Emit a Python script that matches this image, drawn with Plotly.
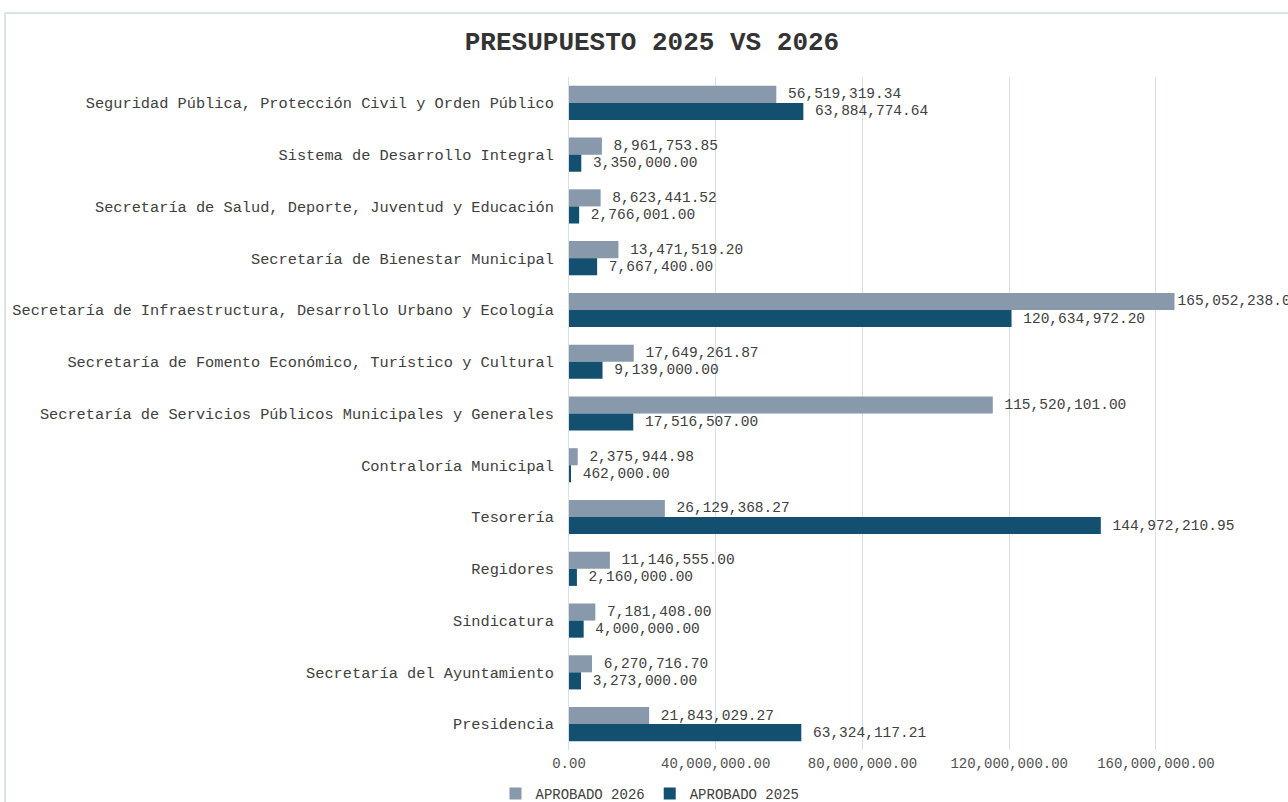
import plotly.graph_objects as go

categories = [
    "Seguridad Pública, Protección Civil y Orden Público",
    "Sistema de Desarrollo Integral",
    "Secretaría de Salud, Deporte, Juventud y Educación",
    "Secretaría de Bienestar Municipal",
    "Secretaría de Infraestructura, Desarrollo Urbano y Ecología",
    "Secretaría de Fomento Económico, Turístico y Cultural",
    "Secretaría de Servicios Públicos Municipales y Generales",
    "Contraloría Municipal",
    "Tesorería",
    "Regidores",
    "Sindicatura",
    "Secretaría del Ayuntamiento",
    "Presidencia",
]

aprobado_2026 = [
    56519319.34, 8961753.85, 8623441.52, 13471519.20, 165052238.00,
    17649261.87, 115520101.00, 2375944.98, 26129368.27, 11146555.00,
    7181408.00, 6270716.70, 21843029.27,
]

aprobado_2025 = [
    63884774.64, 3350000.00, 2766001.00, 7667400.00, 120634972.20,
    9139000.00, 17516507.00, 462000.00, 144972210.95, 2160000.00,
    4000000.00, 3273000.00, 63324117.21,
]

tick_vals = [0, 40000000, 80000000, 120000000, 160000000]
tick_text = ["0.00", "40,000,000.00", "80,000,000.00", "120,000,000.00", "160,000,000.00"]

FONT = "Liberation Mono, Courier New, monospace"
TXT = "#404040"
X_MAX = 196000000

def fmt(v):
    s = f"{v:,.2f}"
    # labels get a small gap after the bar end, except where it would overflow the chart
    return s if v > 0.8 * X_MAX else " " + s

fig = go.Figure()
fig.add_trace(go.Bar(
    name="APROBADO 2026", y=categories, x=aprobado_2026, orientation="h",
    marker=dict(color="#8799ab", line=dict(width=0)),
    text=[fmt(v) for v in aprobado_2026], textposition="outside",
    textfont=dict(family=FONT, size=14.5, color=TXT), cliponaxis=True,
    hoverinfo="x+y",
))
fig.add_trace(go.Bar(
    name="APROBADO 2025", y=categories, x=aprobado_2025, orientation="h",
    marker=dict(color="#135070", line=dict(width=0)),
    text=[fmt(v) for v in aprobado_2025], textposition="outside",
    textfont=dict(family=FONT, size=14.5, color=TXT), cliponaxis=True,
    hoverinfo="x+y",
))

L, T, B = 569, 77, 52
W, H = 1288, 802
pw = W - L
ph = H - T - B

def px_x(x):
    return (x - L) / pw

def px_y(y):
    return 1 - (y - T) / ph

fig.update_layout(
    width=W, height=H,
    margin=dict(l=L, r=0, t=T, b=B, pad=0, autoexpand=False),
    paper_bgcolor="white", plot_bgcolor="white",
    barmode="group", bargap=0.34, bargroupgap=0,
    font=dict(family=FONT, color=TXT),
    title=dict(text="<b>PRESUPUESTO 2025 VS 2026</b>", xref="container",
               x=652 / W, xanchor="center",
               yref="container", y=1 - 41 / H, yanchor="middle",
               font=dict(family=FONT, size=26, color="#333333")),
    xaxis=dict(range=[0, X_MAX], tickvals=tick_vals, ticktext=tick_text,
               showgrid=True, gridcolor="#d7e0e7", gridwidth=1,
               zeroline=False, showline=False, ticks="",
               tickfont=dict(family=FONT, size=14, color="#505050"),
               ticklabelstandoff=3, fixedrange=True, automargin=False),
    yaxis=dict(autorange="reversed", showgrid=False, zeroline=False,
               showline=True, linecolor="#d7e0e7", linewidth=1, ticks="",
               tickfont=dict(family=FONT, size=15.3, color=TXT),
               ticklabelstandoff=11, fixedrange=True, automargin=False),
    legend=dict(orientation="h", x=px_x(650), xanchor="center",
                y=px_y(794), yanchor="middle",
                font=dict(family=FONT, size=14, color=TXT),
                itemwidth=30, tracegroupgap=0, bgcolor="rgba(0,0,0,0)"),
    showlegend=True,
    shapes=[dict(type="rect", xref="paper", yref="paper",
                 x0=px_x(5), x1=px_x(1300), y0=px_y(820), y1=px_y(13),
                 line=dict(color="#d0dadf", width=1.5), fillcolor="rgba(0,0,0,0)",
                 layer="below")],
)

fig.write_html("out.html", config={"displayModeBar": False},
               post_script="document.body.style.margin='0';document.body.style.overflow='hidden';")
